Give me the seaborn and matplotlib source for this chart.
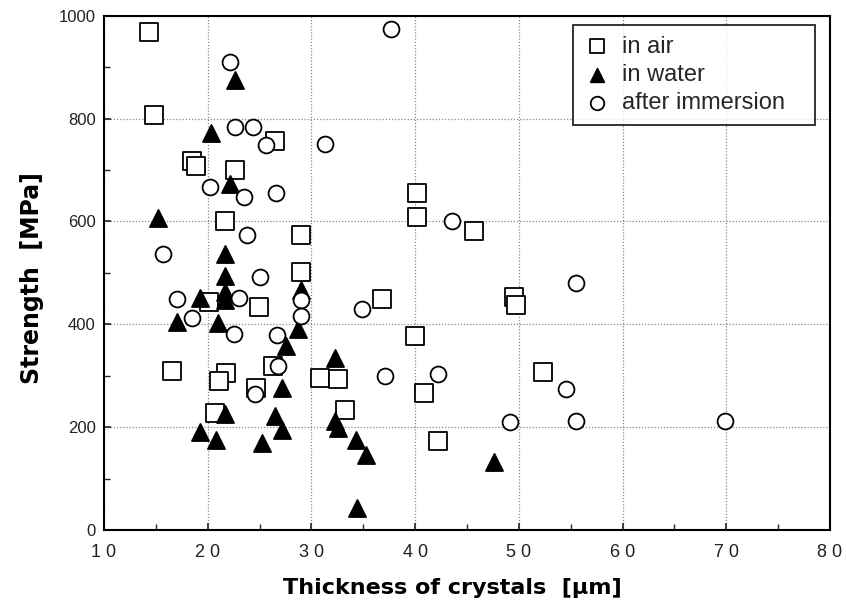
import matplotlib
matplotlib.use("Agg")
import matplotlib.pyplot as plt
import seaborn as sns
import pandas as pd
from matplotlib.ticker import MultipleLocator

# Bending strength vs. crystal thickness, three test conditions
air_thickness = [14.3, 14.8, 18.5, 18.9, 22.6, 26.5, 21.7, 29.0, 29.0, 20.1,
                 24.9, 16.6, 21.8, 21.1, 26.3, 24.7, 20.7, 30.8, 32.6, 33.2,
                 40.2, 40.2, 45.7, 36.8, 49.5, 49.7, 40.0, 40.9, 52.3, 42.2]
air_strength = [968, 806, 717, 707, 700, 757, 601, 574, 501, 444,
                433, 310, 306, 289, 318, 276, 228, 295, 293, 233,
                656, 608, 582, 449, 454, 438, 377, 266, 308, 174]

water_thickness = [22.6, 20.3, 22.1, 15.2, 21.7, 21.7, 21.7, 21.7, 19.3, 17.0,
                   21.0, 29.0, 28.7, 27.5, 32.3, 27.2, 21.7, 19.3, 20.8, 25.2,
                   26.5, 27.2, 32.3, 32.6, 34.3, 35.3, 47.6, 34.4]
water_strength = [875, 772, 672, 606, 537, 493, 463, 447, 451, 405,
                  402, 467, 391, 358, 334, 276, 226, 191, 175, 169,
                  221, 195, 211, 198, 175, 146, 133, 42]

immersed_thickness = [22.1, 22.6, 24.4, 25.6, 31.3, 37.7, 20.2, 23.5, 26.6, 23.8,
                      15.7, 25.0, 17.0, 23.0, 18.5, 22.5, 29.0, 29.0, 26.7, 26.8,
                      24.6, 43.6, 34.9, 37.1, 42.2, 55.5, 54.5, 49.1, 55.5, 69.9]
immersed_strength = [910, 783, 783, 749, 750, 975, 667, 647, 655, 574,
                     537, 491, 449, 452, 412, 381, 447, 417, 379, 318,
                     265, 601, 429, 300, 303, 480, 274, 210, 211, 211]

x_ticks = [10, 20, 30, 40, 50, 60, 70, 80]
x_tick_labels = ["1 0", "2 0", "3 0", "4 0", "5 0", "6 0", "7 0", "8 0"]
y_ticks = [0, 200, 400, 600, 800, 1000]

sns.set_theme(style="white")
plt.rcParams["font.family"] = ["Liberation Sans", "DejaVu Sans"]

df = pd.concat([
    pd.DataFrame({"thickness": air_thickness, "strength": air_strength, "condition": "in air"}),
    pd.DataFrame({"thickness": water_thickness, "strength": water_strength, "condition": "in water"}),
    pd.DataFrame({"thickness": immersed_thickness, "strength": immersed_strength, "condition": "after immersion"}),
], ignore_index=True)

fig = plt.figure(figsize=(8.46, 6.05), dpi=100)
ax = fig.add_axes([0.123, 0.124, 0.858, 0.850])

styles = {
    "in air": dict(marker="s", facecolor="white", s=150),
    "in water": dict(marker="^", facecolor="black", s=150),
    "after immersion": dict(marker="o", facecolor="white", s=130),
}
for cond, st in styles.items():
    sns.scatterplot(data=df[df["condition"] == cond], x="thickness", y="strength",
                    marker=st["marker"], s=st["s"], facecolor=st["facecolor"],
                    edgecolor="black", linewidth=1.3, label=cond, ax=ax, zorder=3)

ax.set_xlim(10, 80)
ax.set_ylim(0, 1000)
ax.set_xticks(x_ticks)
ax.set_xticklabels(x_tick_labels)
ax.set_yticks(y_ticks)
ax.xaxis.set_minor_locator(MultipleLocator(5))
ax.yaxis.set_minor_locator(MultipleLocator(100))
ax.tick_params(axis="both", which="major", direction="in", length=5, width=1.2,
               labelsize=12, colors="#222222", pad=6)
ax.tick_params(axis="x", which="major", pad=10, labelsize=13)
ax.tick_params(axis="both", which="minor", direction="in", length=4, width=1.0)
ax.tick_params(axis="both", which="both", bottom=True, left=True, top=False, right=False)

ax.grid(True, which="major", linestyle=(0, (1, 1.5)), color="#888888", linewidth=0.9)
for sp in ax.spines.values():
    sp.set_color("black")
    sp.set_linewidth(1.5)

ax.set_xlabel("Thickness of crystals  [\u03bcm]", fontsize=16, fontweight="bold",
              family="DejaVu Sans", color="black")
ax.set_ylabel("Strength  [MPa]", fontsize=17, fontweight="bold",
              family="DejaVu Sans", color="black")
ax.xaxis.set_label_coords(0.48, -0.093)
ax.yaxis.set_label_coords(-0.083, 0.49)

leg = ax.legend(loc="upper left", bbox_to_anchor=(0.646, 0.784, 0.333, 0.198),
                mode="expand", borderaxespad=0, fontsize=17, frameon=True,
                fancybox=False, edgecolor="black", borderpad=0.45,
                handletextpad=0.5, labelspacing=0.27, handlelength=1.13)
leg.get_frame().set_linewidth(1.4)
for h in leg.legend_handles:
    h.set_sizes([95])

fig.savefig("out.png", dpi=100)
